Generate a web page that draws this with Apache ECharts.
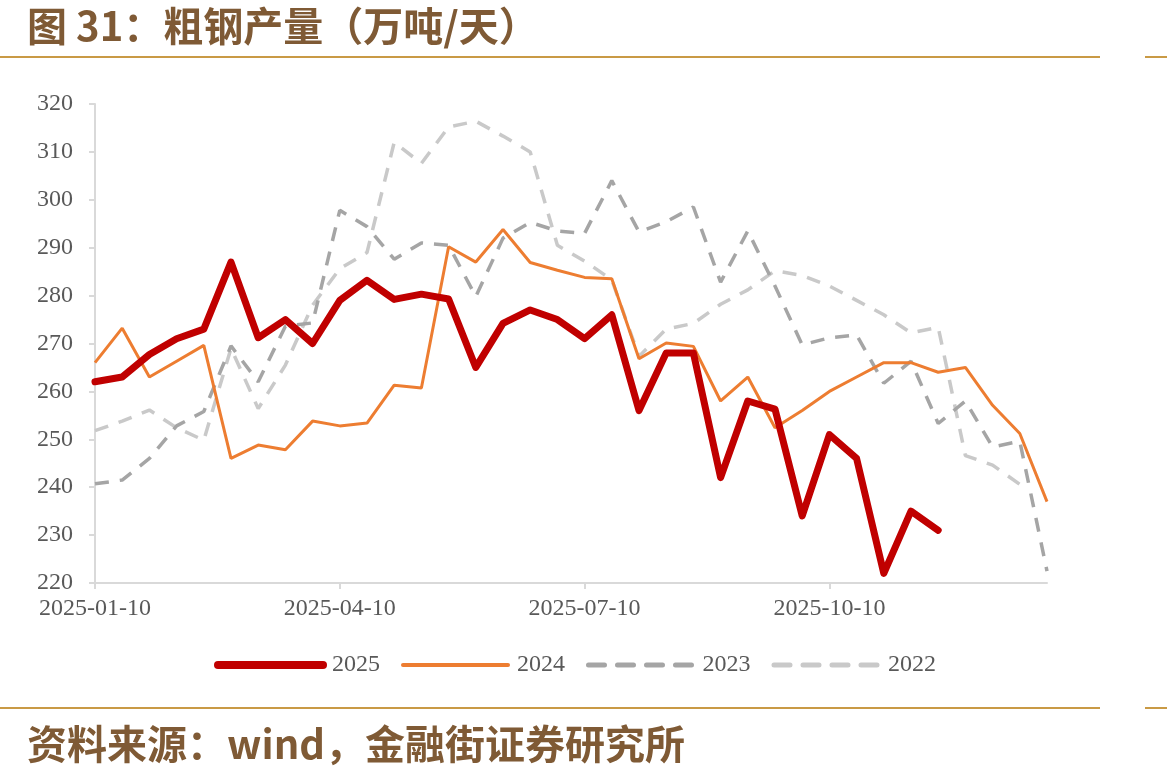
<!DOCTYPE html>
<html>
<head>
<meta charset="utf-8">
<script src="https://cdn.jsdelivr.net/npm/echarts@6/dist/echarts.min.js"></script>
<style>
  html, body { margin: 0; padding: 0; background: #fff; }
  #chart { width: 1167px; height: 777px; }
</style>
</head>
<body>
<div id="chart"></div>
<script>
// dekad dates (10th, 20th, month end)
var dates = [
  '2025-01-10', '2025-01-20', '2025-01-31', '2025-02-10', '2025-02-20', '2025-02-28',
  '2025-03-10', '2025-03-20', '2025-03-31', '2025-04-10', '2025-04-20', '2025-04-30',
  '2025-05-10', '2025-05-20', '2025-05-31', '2025-06-10', '2025-06-20', '2025-06-30',
  '2025-07-10', '2025-07-20', '2025-07-31', '2025-08-10', '2025-08-20', '2025-08-31',
  '2025-09-10', '2025-09-20', '2025-09-30', '2025-10-10', '2025-10-20', '2025-10-31',
  '2025-11-10', '2025-11-20', '2025-11-30', '2025-12-10', '2025-12-20', '2025-12-31'
];

var y2025 = [262, 263, 267.7, 271, 273, 287, 271.2, 275, 270, 279, 283.2, 279.2,
  280.3, 279.3, 265, 274.2, 277, 275, 271, 276, 256, 268, 268, 242,
  258, 256.3, 234, 251, 246, 222, 235, 231];

var y2024 = [266, 273.2, 263, 266.3, 269.6, 246, 248.8, 247.8, 253.8, 252.8, 253.4, 261.3,
  260.7, 290.2, 287, 293.8, 286.9, 285.3, 283.8, 283.5, 266.8, 270.1, 269.4, 258,
  263, 252.4, 256, 260, 263, 266, 266, 264, 265, 257.1, 251.2, 237];

var y2023 = [240.7, 241.5, 246, 252.8, 255.8, 269.5, 262, 273.6, 274.3, 297.8, 294.4, 287.6,
  291, 290.5, 279.8, 292, 295.3, 293.5, 293, 304, 293.3, 295.4, 298.5, 282.8,
  293.5, 282, 269.7, 271.2, 271.8, 261.7, 266.3, 253.3, 258, 248.4, 249.6, 222.5];

var y2022 = [251.8, 253.8, 256.1, 252.4, 249.8, 269, 256.4, 265.5, 278, 285.6, 289, 312,
  307.6, 315.2, 316.4, 313.3, 310, 290.5, 287.2, 283.3, 267.3, 273, 274.2, 278.2,
  281.2, 285.2, 284.2, 282, 279, 276, 272.2, 273.4, 246.6, 244.6, 240.6];

var brown = '#7f5a35';
var gold = '#c99a45';
var axisGray = '#d9d9d9';
var labelGray = '#595959';
var serif = '"Liberation Serif", "Times New Roman", serif';
var cjk = '"Noto Sans CJK SC", sans-serif';

var chart = echarts.init(document.getElementById('chart'));

function dashed(name, data, color) {
  return {
    name: name,
    type: 'line',
    data: data,
    symbol: 'none',
    lineStyle: {color: color, width: 3.5, type: [14, 11]},
    itemStyle: {color: color}
  };
}

function hline(y, x1, x2) {
  return {
    type: 'line',
    shape: {x1: x1, y1: y, x2: x2, y2: y},
    style: {stroke: gold, lineWidth: 2}
  };
}

chart.setOption({
  animation: false,
  title: [{
    text: '图 31：粗钢产量（万吨/天）',
    left: 22, top: 1,
    textStyle: {fontFamily: cjk, fontSize: 40, fontWeight: 'bold', color: brown}
  }, {
    text: '资料来源：wind，金融街证券研究所',
    left: 22, top: 719,
    textStyle: {fontFamily: cjk, fontSize: 40, fontWeight: 'bold', color: brown}
  }],
  graphic: [
    hline(57, 0, 1100), hline(57, 1145, 1167),
    hline(708, 0, 1100), hline(708, 1145, 1167)
  ],
  legend: {
    data: [
      {name: '2025', lineStyle: {width: 8, cap: 'round'}},
      {name: '2024', lineStyle: {width: 4, cap: 'round'}},
      {name: '2023', lineStyle: {width: 5, type: [16, 13], cap: 'round'}},
      {name: '2022', lineStyle: {width: 5, type: [16, 13], cap: 'round'}}
    ],
    left: 209, top: 648,
    itemWidth: 105, itemHeight: 24, itemGap: 21,
    itemStyle: {opacity: 0},
    textStyle: {fontFamily: serif, fontSize: 24, color: labelGray, padding: [0, 0, 0, 4]}
  },
  grid: {left: 95, right: 120, top: 104, bottom: 194},
  xAxis: {
    type: 'category',
    data: dates,
    boundaryGap: false,
    axisLine: {lineStyle: {color: axisGray, width: 2}},
    axisTick: {interval: 8, length: 6, lineStyle: {color: axisGray, width: 2}},
    axisLabel: {interval: 8, margin: 14, fontFamily: serif, fontSize: 24, color: labelGray}
  },
  yAxis: {
    type: 'value',
    min: 220, max: 320, interval: 10,
    splitLine: {show: false},
    axisLine: {show: true, lineStyle: {color: axisGray, width: 2}},
    axisTick: {show: true, length: 6, lineStyle: {color: axisGray, width: 2}},
    axisLabel: {margin: 22, fontFamily: serif, fontSize: 24, color: labelGray}
  },
  series: [
    dashed('2022', y2022, '#c9c9c9'),
    dashed('2023', y2023, '#a5a5a5'),
    {
      name: '2024', type: 'line', data: y2024, symbol: 'none',
      lineStyle: {color: '#ed7d31', width: 3},
      itemStyle: {color: '#ed7d31'}
    },
    {
      name: '2025', type: 'line', data: y2025, symbol: 'none',
      lineStyle: {color: '#c00000', width: 7, cap: 'round', join: 'round'},
      itemStyle: {color: '#c00000'}
    }
  ]
});
</script>
</body>
</html>
